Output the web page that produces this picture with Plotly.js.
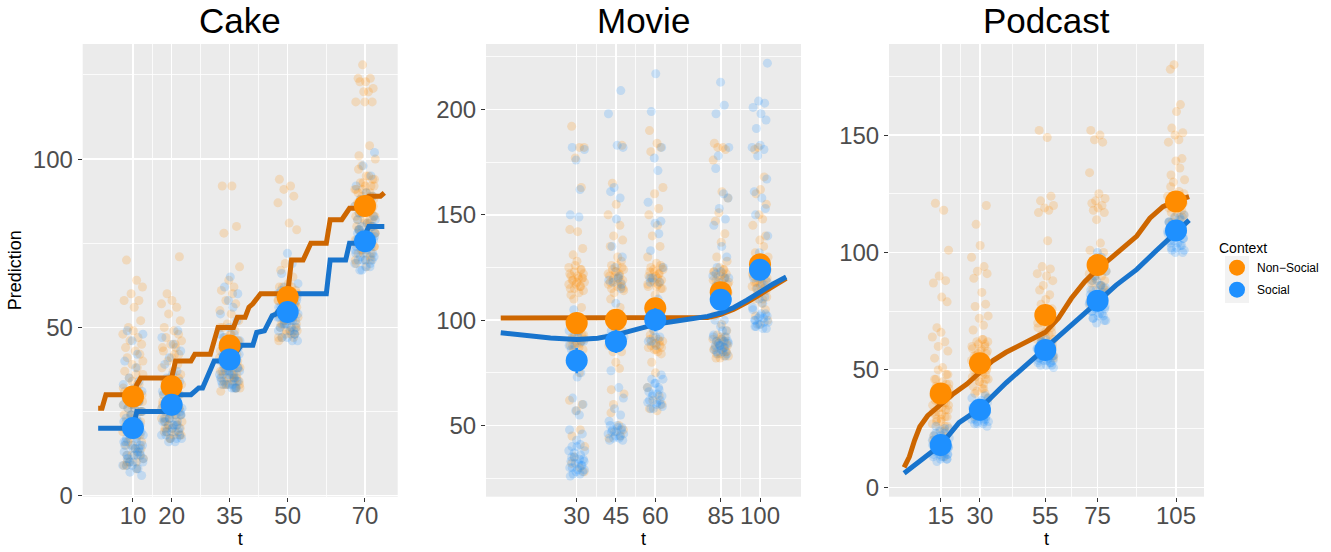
<!DOCTYPE html>
<html><head><meta charset="utf-8">
<script src="https://cdn.plot.ly/plotly-3.0.1.min.js"></script>
<style>html,body{margin:0;padding:0;background:#fff}#chart{width:1331px;height:552px}</style>
</head><body><div id="chart"></div>
<script>
// ---------- DATA ----------
const groupNames = ['Non\u2212Social', 'Social'];
const panelTitles = ['Cake', 'Movie', 'Podcast'];

// Cake
const cakeT = [10, 20, 35, 50, 70];
const cakeMeanNS = [29.5, 32.5, 44.6, 59.0, 86.1];
const cakeMeanS  = [20.1, 27.0, 40.5, 54.6, 75.6];
const cakeSeNS = [2.5, 2.5, 2.5, 2.5, 2.5];
const cakeSeS  = [2.0, 2.0, 2.0, 2.0, 2.0];
const cakePtsNS = [
  [70,64,62,60,58,58,56,52,50,49,48,47,46,45,44,43,42,41,40,39,38,37,36,35,33,32,31,30,30,29,28,27,26,25,24,22,20,18,15,13,12,11,10,9,8,28,27,25,24,23,22,21,20,19,18,17,16,15,14,12,10,36,34,33,31,30,29,28,27,26,25,24,22,20,18,16,14,12,10,9],
  [71,60,58,57,56,54,52,50,49,48,47,46,45,44,43,42,40,39,38,37,36,35,34,33,32,31,30,29,28,27,26,25,24,23,22,21,20,19,18,17,30,28,27,26,25,24,23,22,21,20,19,18,35,34,33,32,31,30,29,28,27,26,25,24,23,22,21,20,19,18,17,45,44,42,41],
  [92,92,80,78,68,64,62,61,60,58,57,55,54,52,51,50,49,48,47,46,45,44,43,42,41,40,39,38,37,36,35,34,33,32,31,45,44,43,42,41,40,39,38,37,36,35,34,33,38,36,35,34,33,32,50,48,46,45,44,43,42,41,40,39,38,37,36,35,34,33,32],
  [94,92,91,89,87,81,79,69,67,65,63,62,61,60,59,58,57,56,55,54,53,52,51,50,49,48,47,46,58,57,56,55,54,53,52,51,50,49,48,47,60,61,62,62,61,60,59,58,57,56,55,54,53,52,51,50,49,48,47],
  [128,124,124,123,123,121,120,120,117,117,117,104,101,100,98,97,95,94,93,92,91,90,89,88,87,86,85,84,83,82,81,80,79,78,77,76,75,74,73,72,70,68,92,91,90,89,88,87,86,85,84,83,82,81,80,79,78,77,76,75,74,72,70,69,95,94,93,92,91,90,89,88,87,86,85,84,83,82,81,80,79,78,77,76,75,74,73,72,71,70]
];
const cakePtsS = [
  [49,48,46,42,40,38,35,34,33,32,31,30,29,28,27,26,25,24,23,22,21,20,20,19,18,18,17,16,15,15,14,13,12,12,11,10,9,8,7,6,16,14,13,11,10,9,12,15,30,29,28,27,26,25,24,23,22,21,20,19,18,17,16,15,14,13,12,11,10,9,8],
  [49,47,45,43,41,39,37,36,35,34,33,32,31,30,29,28,27,26,26,25,24,24,23,22,22,21,20,20,19,18,17,16,25,23,21,19,18,17,34,32,30,29,28,27,26,25,24,23,22,21,20,19,18,17,16],
  [65,62,60,58,56,54,52,50,48,47,46,45,44,43,42,41,40,40,39,38,37,37,36,35,35,34,33,32,32,38,37,36,35,34,33,33,32,48,46,44,43,42,41,40,39,38,37,36,35,34,33,32],
  [72,69,66,63,62,61,60,59,58,57,56,55,55,54,54,53,52,51,50,50,49,48,47,46,58,56,53,52,51,49,60,59,58,57,56,55,54,53,52,51,50,49,48,47,46,55,54,53],
  [102,98,95,92,90,89,88,87,86,85,84,83,82,81,80,79,78,78,77,76,75,75,74,73,72,71,70,70,69,68,67,80,77,74,72,70,88,86,84,82,80,79,78,77,76,75,74,73,72,71,70,69,68,67,76,78]
];
const cakeLineTNS = [1,2,3,10,11,12,20,21,25,26,30,31,32,36,37,39,40,41,43,50,51,54,55,56,60,61,64,65,66,69,70,71,74,75];
const cakeLineVNS = [26,26,30,30,33,35,35,40,40,42,42,46,50,50,53,53,56,57,60,60,70,70,72.5,75,75,82,82,84,85.4,85.4,88,89,89,90];
const cakeLineTS = [1,10,11,20,21,25,26,27,28,29,30,31,35,36,37,38,41,42,44,45,46,47,48,49,50,51,60,61,65,66,69,70,71,75];
const cakeLineVS = [20,20,25,25,30,30,31,32,32,35,37.5,40,40,41.5,43,44.7,44.7,48.5,49,51.5,53.5,54,55.5,57,58.5,60,60,70,70,75,75,78,80,80];

// Movie
const movieT = [30, 45, 60, 85, 100];
const movieMeanNS = [98.6, 100.2, 105.7, 113.3, 126.5];
const movieMeanS  = [80.8, 89.9, 100.2, 109.7, 123.9];
const movieSeNS = [4.5, 4.5, 4.5, 4.5, 4.5];
const movieSeS  = [6.0, 5.5, 5.5, 5.0, 5.0];
const moviePtsNS = [
  [192,182,182,177,163,143,142,134,131,128,125,124,123,122,121,120,120,119,118,117,116,115,113,110,106,100,95,93,92,91,90,89,88,86,80,75,62,60,57,48,45,40,35,32,30,28,126,124,122,121,120,119,118,117,116,115,114,112,94,93,92,91,90,89,88,87,86],
  [183,165,155,150,145,140,138,135,130,128,126,124,123,122,121,120,119,118,117,116,115,113,110,106,102,98,95,92,90,88,85,80,77,67,65,60,56,50,48,47,45,44,126,125,124,123,122,121,120,119,118,117,116,115,114,95,93,90,88,85],
  [190,184,182,180,163,160,153,150,145,140,135,130,127,125,124,123,122,121,120,119,118,117,116,115,112,108,105,100,96,93,91,90,89,88,87,86,84,80,75,68,64,62,60,58,57,126,125,124,123,122,121,120,119,118,117,116,115,92,91,90,89,88,87,86,85],
  [184,182,182,181,176,161,158,151,147,141,137,130,128,125,124,123,122,121,120,119,118,117,116,115,113,110,106,102,98,95,93,92,91,90,89,88,87,86,85,84,83,82,124,123,122,121,120,119,118,117,116,115,92,91,90,89,88,87,86,85,84,83,82],
  [182,181,168,162,160,155,150,148,145,140,138,135,132,130,128,126,125,124,123,122,121,120,119,118,117,116,115,113,111,110,108,105,102,100,98,128,126,125,124,123,122,121,120,119,118,117,116,115,114,112,110]
];
const moviePtsS = [
  [182,181,176,162,150,149,105,100,95,92,90,88,86,75,73,63,60,57,55,48,46,43,41,40,38,37,35,34,33,32,31,30,29,28,27,40,38,36,35,34,33,32,31,30,29,28,27,26,95,92,90,88],
  [209,198,183,182,163,161,158,148,135,130,125,121,119,117,108,100,95,92,90,76,68,63,58,55,52,50,49,48,47,46,45,44,43,50,49,48,47,46,45,44,43,120,118,115,92,90],
  [217,199,182,177,171,156,147,146,141,133,125,120,118,110,100,95,92,90,88,74,72,70,68,67,65,64,62,61,60,58,72,70,68,66,65,64,62,61,60,59,58,120,118,92,90],
  [213,202,198,182,178,172,160,158,153,148,145,135,130,125,123,121,120,115,110,100,95,92,90,89,88,87,86,85,84,83,92,91,90,89,88,87,86,85,84,88,90,93,95,97,100,122,120,118,116],
  [222,204,203,201,198,195,191,183,182,181,178,167,161,158,153,150,140,132,125,120,117,115,111,106,103,102,101,100,99,98,97,96,110,108,105,103,102,101,100,99,98,97,96,118,120]
];
const movieLineTNS = [1,78,80,85,90,95,100,105,110];
const movieLineVNS = [101,101,101.3,102.8,105.2,108.5,112,116,119.8];
const movieLineTS = [1,10,20,30,38,45,50,55,60,65,70,75,80,85,90,95,100,105,110];
const movieLineVS = [94,92.7,91.5,90.8,91.4,93,94.8,96.5,98,99,100,100.7,101.8,103.5,106,109.5,113.5,117.2,120.5];

// Podcast
const podT = [15, 30, 55, 75, 105];
const podMeanNS = [40.0, 52.8, 73.4, 94.7, 121.7];
const podMeanS  = [18.0, 33.0, 58.5, 79.5, 109.4];
const podSeNS = [3, 3, 3, 3, 3];
const podSeS  = [2, 2, 2, 2, 2];
const podPtsNS = [
  [121,118,101,90,88,87,81,79,68,66,64,62,60,58,55,51,48,46,44,42,40,39,38,37,36,35,34,33,32,31,30,29,28,26,25,22,20,18,15,13,40,39,38,37,36,35,34,33,32,31,30,29,28,27,26,50,48,46,45,44,43,42,41,24,22,20],
  [120,112,103,98,94,92,91,89,83,78,77,73,72,69,67,63,62,61,60,59,58,57,56,55,53,51,50,49,48,47,46,45,42,40,38,35,30,63,62,61,60,59,58,57,56,55,54,53,52,51,50,49,48,47,46,45,44,43,42,41,40],
  [152,149,124,122,120,119,118,117,105,94,93,91,90,88,86,84,82,80,78,76,74,72,70,68,66,65,64,63,62,60,58,56,70,69,68,67,66,65,64,63,62,61,60,59,58,57,56,55],
  [152,150,148,147,134,125,123,122,121,120,119,118,117,114,104,101,100,98,96,94,92,90,88,86,84,82,80,78,95,94,93,92,91,90,89,88,87,86,85,84,83,82,81,80],
  [180,178,163,160,153,151,150,148,147,140,139,136,133,131,130,128,126,125,123,121,119,117,115,113,110,124,123,122,121,120,119,118,117,116,115,114,113,112]
];
const podPtsS = [
  [26,25,24,23,22,21,20,19,18,18,17,17,16,16,15,15,14,14,13,13,12,12,25,23,21,20,19,18,17,16,15,14,13,12,11,22,20,18,16,14],
  [39,38,37,36,35,34,34,33,33,32,32,31,31,30,30,29,29,28,28,27,27,38,36,35,34,33,32,31,30,29,28,27,26,33,31,29],
  [63,62,61,60,59,59,58,58,57,57,56,56,55,55,54,54,53,53,52,52,62,60,59,58,57,56,55,54,53,52,51,58,56,54],
  [100,98,96,92,90,88,86,85,84,83,82,81,80,80,79,78,78,77,76,75,74,73,72,71,88,86,84,82,81,80,79,78,77,76,75,74,73,72,71,70],
  [116,115,114,113,112,111,110,109,109,108,107,106,105,104,103,102,101,100,115,113,111,110,109,108,107,106,105,104,103,102,101,100,112]
];
const podLineTNS = [1,3,5,7,10,15,20,25,30,35,40,45,50,55,60,65,70,75,80,85,90,95,100,105,110];
const podLineVNS = [8.5,13,20,25.8,30.5,35.5,40,44,49,54,57.5,60.5,63,66,72,80.5,87.5,93,97.5,102,107,114.6,119.5,122,123.8];
const podLineTS = [1,15,22,30,40,55,62,69,75,82,90,97,105,110];
const podLineVS = [6,18,27.5,33.5,44.5,59.2,65.6,72.7,79,86,92.8,100.3,108.2,113.8];

// fixed jitter offsets (fraction of jitter half-width)
const jitterPattern = [-0.62,0.35,0.91,-0.18,0.57,-0.85,0.12,0.74,-0.44,0.03,-0.97,0.48,-0.29,0.83,-0.71,0.22,0.66,-0.55,0.95,-0.08,0.41,-0.79,0.28,-0.36,0.59,-0.93,0.15,0.87,-0.23,-0.66,0.51,0.06,-0.49,0.78,-0.12,0.33,-0.88,0.69,-0.02,0.44,-0.58,0.99,-0.31];

// ---------- STYLE ----------
const ptCol   = ['#FF8C00', '#1E90FF'];
const lineCol = ['#CD6600', '#1874CD'];
const FONT = 'Liberation Sans, Arial, Helvetica, sans-serif';
const W = 1331, H = 552;
const plotTop = 44, plotBot = 496.7;
const panels = [
  {t: cakeT, pts: [cakePtsNS, cakePtsS], means: [cakeMeanNS, cakeMeanS], se: [cakeSeNS, cakeSeS],
   lt: [cakeLineTNS, cakeLineTS], lv: [cakeLineVNS, cakeLineVS], jw: 2.7,
   px: [82.7, 397.7], xr: [-3.0, 78.46], yr: [-0.3, 134.2],
   yticks: [0, 50, 100], yminor: [25, 75, 125], xminor: [15, 27.5, 42.5, 60]},
  {t: movieT, pts: [moviePtsNS, moviePtsS], means: [movieMeanNS, movieMeanS], se: [movieSeNS, movieSeS],
   lt: [movieLineTNS, movieLineTS], lv: [movieLineVNS, movieLineVS], jw: 3.1,
   px: [486, 801], xr: [-4.63, 115.65], yr: [16.2, 231.1],
   yticks: [50, 100, 150, 200], yminor: [25, 75, 125, 175, 225], xminor: [37.5, 52.5, 72.5, 92.5]},
  {t: podT, pts: [podPtsNS, podPtsS], means: [podMeanNS, podMeanS], se: [podSeNS, podSeS],
   lt: [podLineTNS, podLineTS], lv: [podLineVNS, podLineVS], jw: 3.3,
   px: [889, 1204], xr: [-4.78, 115.7], yr: [-4.0, 188.8],
   yticks: [0, 50, 100, 150], yminor: [25, 75, 125, 175], xminor: [22.5, 42.5, 65, 90]}
];

const traces = [];
const legendTop = 235;
const layout = {
  width: W, height: H, margin: {l: 0, r: 0, t: 0, b: 0},
  paper_bgcolor: '#FFFFFF', plot_bgcolor: '#EBEBEB',
  font: {family: FONT, color: '#000'},
  showlegend: true,
  legend: {
    x: 1217 / W, y: 1 - legendTop / H, xanchor: 'left', yanchor: 'top',
    bgcolor: 'rgba(0,0,0,0)', font: {size: 12, family: FONT, color: '#000'},
    title: {text: 'Context', font: {size: 14, family: FONT, color: '#000'}},
    traceorder: 'grouped', tracegroupgap: 3, itemclick: false
  },
  annotations: [],
  shapes: [{type: 'rect', xref: 'paper', yref: 'paper', layer: 'above',
    x0: 1225 / W, x1: 1249 / W, y0: 1 - 303 / H, y1: 1 - 256 / H,
    fillcolor: '#F2F2F2', line: {width: 0}}]
};

panels.forEach((p, k) => {
  const sfx = k === 0 ? '' : String(k + 1);
  const xa = 'x' + sfx, ya = 'y' + sfx;
  // jittered raw points
  [0, 1].forEach(g => {
    const xs = [], ys = [];
    p.pts[g].forEach((vals, ti) => {
      vals.forEach((v, i) => {
        const j = jitterPattern[(i + g * 17 + ti * 7) % jitterPattern.length];
        xs.push(p.t[ti] + j * p.jw);
        ys.push(v);
      });
    });
    traces.push({type: 'scatter', mode: 'markers', x: xs, y: ys, xaxis: xa, yaxis: ya,
      marker: {size: 9, color: ptCol[g], opacity: 0.2, line: {width: 0}},
      showlegend: false, hoverinfo: 'skip'});
  });
  // model lines
  [0, 1].forEach(g => {
    traces.push({type: 'scatter', mode: 'lines', x: p.lt[g], y: p.lv[g], xaxis: xa, yaxis: ya,
      line: {color: lineCol[g], width: 5}, showlegend: false, hoverinfo: 'skip'});
  });
  // means
  [0, 1].forEach(g => {
    traces.push({type: 'scatter', mode: 'markers', x: p.t, y: p.means[g], xaxis: xa, yaxis: ya,
      name: groupNames[g], legendgroup: groupNames[g], showlegend: k === 0,
      marker: {size: 22, color: ptCol[g], line: {width: 0}},
      error_y: {type: 'data', array: p.se[g], visible: true, color: ptCol[g], thickness: 2.5, width: 0}});
  });

  const xdom = [p.px[0] / W, p.px[1] / W];
  layout['xaxis' + sfx] = {
    domain: xdom, anchor: ya, range: p.xr, tickmode: 'array', tickvals: p.t, ticktext: p.t.map(String),
    ticks: 'outside', ticklen: 4, tickwidth: 1, tickcolor: '#333333', ticklabelstandoff: -7,
    tickfont: {size: 24, color: '#4D4D4D', family: FONT},
    showgrid: true, gridcolor: '#FFFFFF', gridwidth: 1.6, zeroline: false, showline: false,
    minor: {tickmode: 'array', tickvals: p.xminor, showgrid: true, gridcolor: '#FFFFFF', gridwidth: 0.8, ticks: ''},
    title: {text: 't', font: {size: 18, color: '#000', family: FONT}, standoff: 4},
    fixedrange: true
  };
  layout['yaxis' + sfx] = {
    domain: [1 - plotBot / H, 1 - plotTop / H], anchor: xa, range: p.yr,
    tickmode: 'array', tickvals: p.yticks, ticktext: p.yticks.map(String),
    ticks: 'outside', ticklen: 4, tickwidth: 1, tickcolor: '#333333',
    tickfont: {size: 24, color: '#4D4D4D', family: FONT},
    showgrid: true, gridcolor: '#FFFFFF', gridwidth: 1.6, zeroline: false, showline: false,
    minor: {tickmode: 'array', tickvals: p.yminor, showgrid: true, gridcolor: '#FFFFFF', gridwidth: 0.8, ticks: ''},
    title: {text: k === 0 ? 'Prediction' : '', font: {size: 18, color: '#000', family: FONT}, standoff: 6},
    fixedrange: true
  };
  layout.annotations.push({
    text: panelTitles[k], xref: 'paper', yref: 'paper',
    x: (xdom[0] + xdom[1]) / 2, y: 1 - 20 / H, xanchor: 'center', yanchor: 'middle',
    showarrow: false, font: {size: 35, color: '#000', family: FONT}
  });
});

Plotly.newPlot('chart', traces, layout, {displayModeBar: false, staticPlot: true});
</script>
</body></html>
